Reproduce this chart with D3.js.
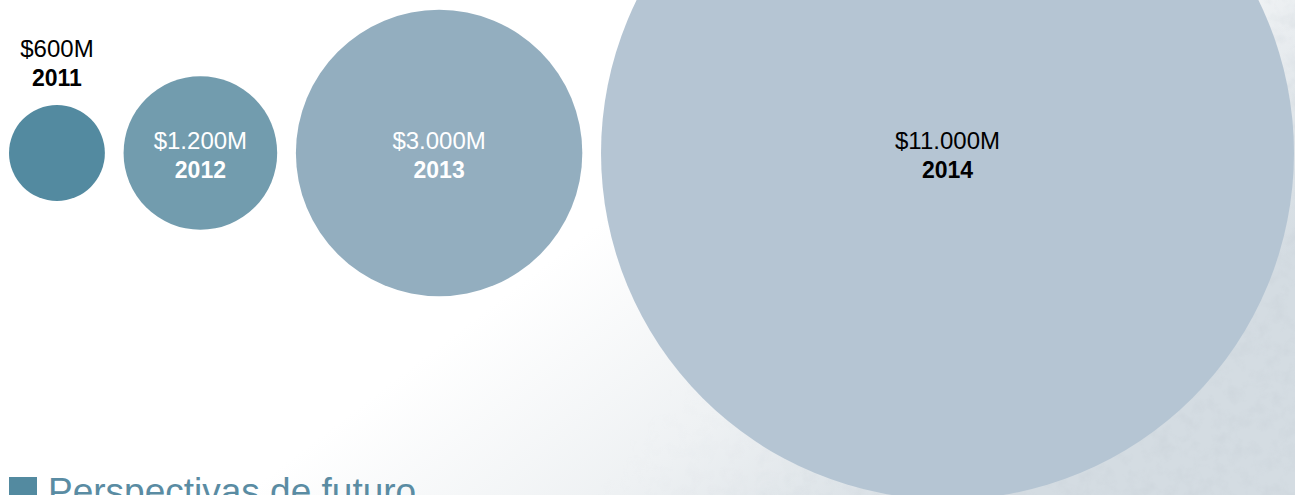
<!DOCTYPE html>
<html>
<head>
<meta charset="utf-8">
<script src="https://cdn.jsdelivr.net/npm/d3@7"></script>
<style>
  html, body { margin: 0; padding: 0; background: #fff; overflow: hidden; }
  svg { display: block; font-family: "Liberation Sans", Arial, Helvetica, sans-serif; }
</style>
</head>
<body>
<svg id="chart"></svg>
<script>
// ── DATA ──────────────────────────────────────────────────────────────
const years = ["2011", "2012", "2013", "2014"];
const values = [600, 1200, 3000, 11000];
const valueLabels = ["$600M", "$1.200M", "$3.000M", "$11.000M"];
const legendLabel = "Perspectivas de futuro";

const colors = ["#538aa0", "#729cae", "#93aebf", "#b5c5d3"];
const labelColors = ["#000", "#fff", "#fff", "#000"];

const width = 1295, height = 495;
const svg = d3.select("#chart").attr("width", width).attr("height", height)
  .attr("viewBox", `0 0 ${width} ${height}`);

// background: white fading into a snowy texture towards the bottom right
const defs = svg.append("defs");
const bg = defs.append("linearGradient").attr("id", "bg").attr("x1", 0).attr("x2", 1).attr("y1", 0).attr("y2", 0.5);
bg.append("stop").attr("offset", "55%").attr("stop-color", "#ffffff");
bg.append("stop").attr("offset", "78%").attr("stop-color", "#eef1f3");
bg.append("stop").attr("offset", "100%").attr("stop-color", "#d4dce2");
const noise = defs.append("filter").attr("id", "noise").attr("x", 0).attr("y", 0).attr("width", "100%").attr("height", "100%");
noise.append("feTurbulence").attr("type", "fractalNoise").attr("baseFrequency", 0.07).attr("numOctaves", 3).attr("seed", 4);
noise.append("feColorMatrix").attr("type", "matrix")
  .attr("values", "0 0 0 0 0.55  0 0 0 0 0.6  0 0 0 0 0.65  0 0 0 -1.4 0.8");
const fade = defs.append("linearGradient").attr("id", "fade").attr("x1", 0).attr("x2", 1).attr("y1", 0).attr("y2", 0.3);
fade.append("stop").attr("offset", "68%").attr("stop-color", "#fff").attr("stop-opacity", 0);
fade.append("stop").attr("offset", "100%").attr("stop-color", "#fff").attr("stop-opacity", 1);
defs.append("mask").attr("id", "fadeMask")
  .append("rect").attr("width", width).attr("height", height).attr("fill", "url(#fade)");

svg.append("rect").attr("width", width).attr("height", height).attr("fill", "url(#bg)");
svg.append("rect").attr("width", width).attr("height", height)
  .attr("filter", "url(#noise)").attr("mask", "url(#fadeMask)").attr("opacity", 0.45);

// ── SCALES ────────────────────────────────────────────────────────────
const left = 9, right = 1294, gap = 18.7, cy = 153;
const pow = 0.68;
const sumPow = d3.sum(values, (v) => Math.pow(v, pow));
const maxR = ((right - left - gap * (values.length - 1)) / 2) * Math.pow(d3.max(values), pow) / sumPow;
const rScale = d3.scalePow().exponent(pow).domain([0, d3.max(values)]).range([0, maxR]);

// circles laid out side by side, left to right
let cursor = left;
const nodes = values.map((v, i) => {
  const r = rScale(v);
  const cx = cursor + r;
  cursor += 2 * r + gap;
  return { year: years[i], value: v, label: valueLabels[i], r, cx, i };
});

const g = svg.append("g");
g.selectAll("circle.bubble")
  .data(nodes)
  .join("circle")
  .attr("class", "bubble")
  .attr("cx", (d) => d.cx)
  .attr("cy", cy)
  .attr("r", (d) => d.r)
  .attr("fill", (d) => colors[d.i]);

// labels: inside the circle, or above it when the circle is too small
const labels = g.selectAll("g.lbl")
  .data(nodes)
  .join("g")
  .attr("class", "lbl")
  .attr("transform", (d) => d.r < 60
    ? `translate(${d.cx},${cy - d.r - 48})`
    : `translate(${d.cx},${cy - 4})`);
labels.append("text")
  .attr("text-anchor", "middle")
  .attr("font-size", 24)
  .attr("fill", (d) => labelColors[d.i])
  .text((d) => d.label);
labels.append("text")
  .attr("text-anchor", "middle")
  .attr("y", 28.5)
  .attr("font-size", 23)
  .attr("font-weight", "bold")
  .attr("fill", (d) => labelColors[d.i])
  .text((d) => d.year);

// section heading at the bottom (cut off by the frame, as in the source)
svg.append("rect").attr("x", 9).attr("y", 477).attr("width", 28).attr("height", 28).attr("fill", "#538aa0");
svg.append("text")
  .attr("x", 48)
  .attr("y", 504)
  .attr("font-size", 37)
  .attr("fill", "#5a8ca3")
  .text(legendLabel);
</script>
</body>
</html>
